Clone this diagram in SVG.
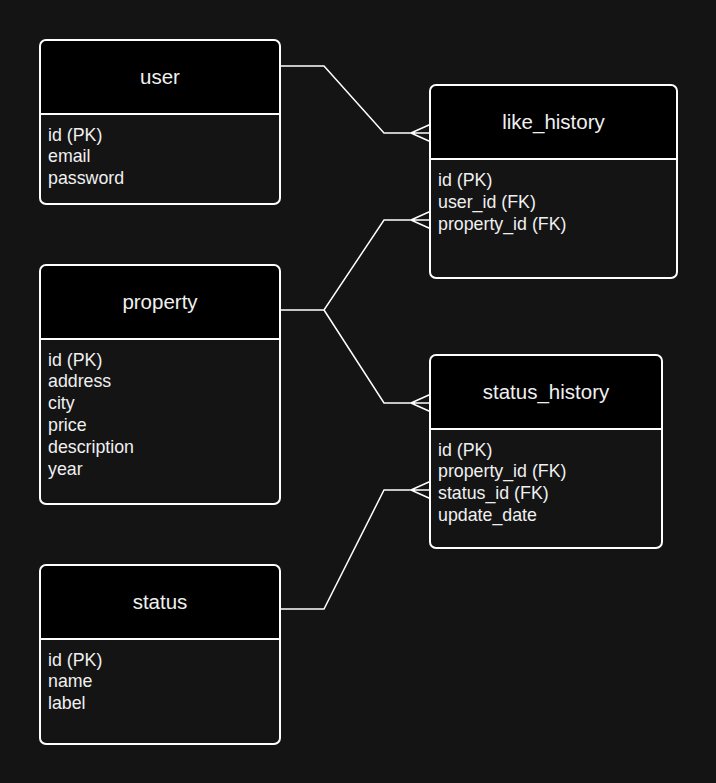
<svg xmlns="http://www.w3.org/2000/svg" width="716" height="783" viewBox="0 0 716 783">
<defs>
<style>
.box{fill:#141414;stroke:#ffffff;stroke-width:2}
.head{fill:#000000}
.sep{stroke:#ffffff;stroke-width:2}
.title{font-family:"Liberation Sans",Arial,sans-serif;font-size:20.5px;fill:#f0f0f0;text-anchor:middle}
.attr{font-family:"Liberation Sans",Arial,sans-serif;font-size:17.8px;fill:#f0f0f0}
.edge{fill:none;stroke:#ffffff;stroke-width:1.5;stroke-linejoin:miter}
</style>
</defs>
<rect x="0" y="0" width="716" height="783" fill="#141414"/>
<g id="connectors">
<path class="edge" d="M280,66 H324 L384,133 H430 M411,133 L430,124.5 M411,133 L430,141.5"/>
<path class="edge" d="M280,310 H324 L384,220 H430 M411,220 L430,211.5 M411,220 L430,228.5"/>
<path class="edge" d="M324,310 L384,403 H430 M411,403 L430,394.5 M411,403 L430,411.5"/>
<path class="edge" d="M280,609 H324 L384,490 H430 M411,490 L430,481.5 M411,490 L430,498.5"/>
</g>
<g id="user">
<path class="head" d="M46,40 H274 Q280,40 280,46 V114 H40 V46 Q40,40 46,40 Z"/>
<rect class="box" x="40" y="40" width="240" height="164" rx="6" style="fill:none"/>
<line class="sep" x1="40" y1="114" x2="280" y2="114"/>
<text class="title" x="160" y="84">user</text>
<text class="attr" x="48" y="140.5">id (PK)</text>
<text class="attr" x="48" y="162">email</text>
<text class="attr" x="48" y="184">password</text>
</g>
<g id="like_history">
<path class="head" d="M436,85 H671 Q677,85 677,91 V159 H430 V91 Q430,85 436,85 Z"/>
<rect class="box" x="430" y="85" width="247" height="193" rx="6" style="fill:none"/>
<line class="sep" x1="430" y1="159" x2="677" y2="159"/>
<text class="title" x="553.5" y="129">like_history</text>
<text class="attr" x="438" y="186">id (PK)</text>
<text class="attr" x="438" y="207.5">user_id (FK)</text>
<text class="attr" x="438" y="229.5">property_id (FK)</text>
</g>
<g id="property">
<path class="head" d="M46,265 H274 Q280,265 280,271 V339 H40 V271 Q40,265 46,265 Z"/>
<rect class="box" x="40" y="265" width="240" height="239" rx="6" style="fill:none"/>
<line class="sep" x1="40" y1="339" x2="280" y2="339"/>
<text class="title" x="160" y="309">property</text>
<text class="attr" x="48" y="365.5">id (PK)</text>
<text class="attr" x="48" y="387">address</text>
<text class="attr" x="48" y="409">city</text>
<text class="attr" x="48" y="431">price</text>
<text class="attr" x="48" y="453">description</text>
<text class="attr" x="48" y="474.5">year</text>
</g>
<g id="status_history">
<path class="head" d="M436,355 H656 Q662,355 662,361 V429 H430 V361 Q430,355 436,355 Z"/>
<rect class="box" x="430" y="355" width="232" height="193" rx="6" style="fill:none"/>
<line class="sep" x1="430" y1="429" x2="662" y2="429"/>
<text class="title" x="546" y="399">status_history</text>
<text class="attr" x="438" y="455.5">id (PK)</text>
<text class="attr" x="438" y="477">property_id (FK)</text>
<text class="attr" x="438" y="499">status_id (FK)</text>
<text class="attr" x="438" y="520.5">update_date</text>
</g>
<g id="status">
<path class="head" d="M46,565 H274 Q280,565 280,571 V639 H40 V571 Q40,565 46,565 Z"/>
<rect class="box" x="40" y="565" width="240" height="179" rx="6" style="fill:none"/>
<line class="sep" x1="40" y1="639" x2="280" y2="639"/>
<text class="title" x="160" y="609">status</text>
<text class="attr" x="48" y="665.5">id (PK)</text>
<text class="attr" x="48" y="687">name</text>
<text class="attr" x="48" y="709">label</text>
</g>
</svg>
